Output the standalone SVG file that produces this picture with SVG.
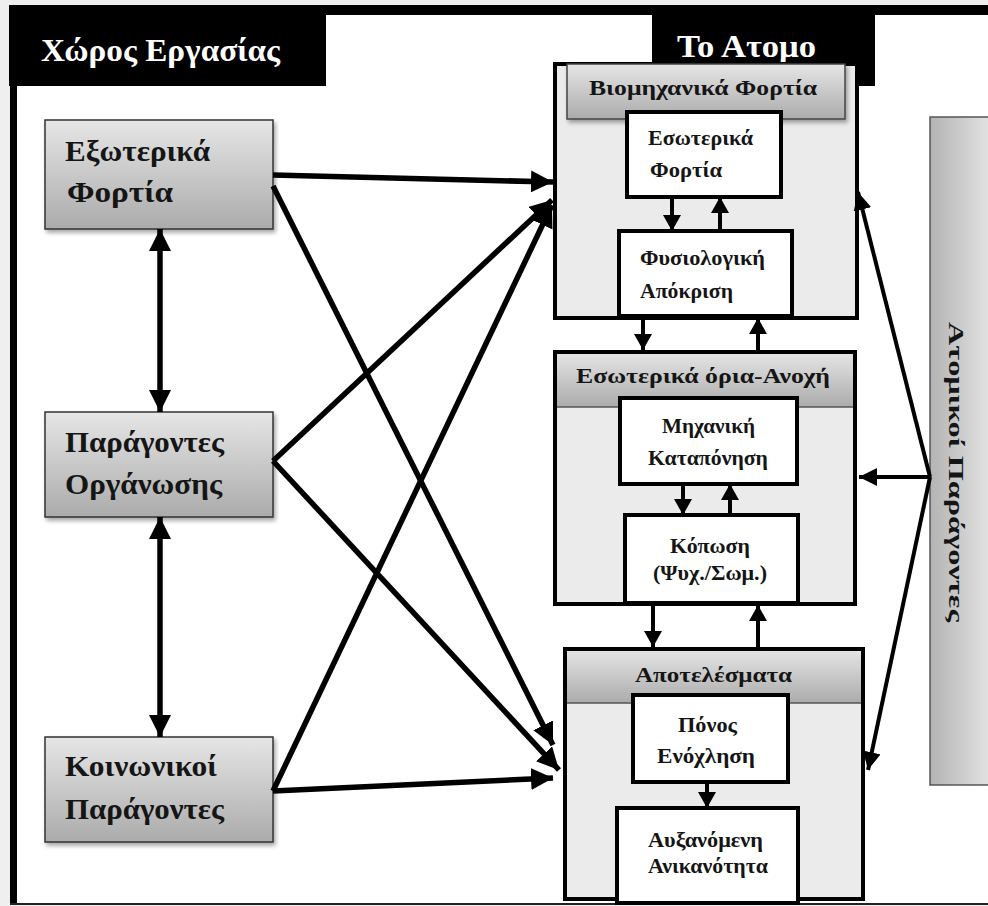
<svg xmlns="http://www.w3.org/2000/svg" width="988" height="906" viewBox="0 0 988 906">
<defs>
<linearGradient id="gv" x1="0" y1="0" x2="0" y2="1"><stop offset="0" stop-color="#e6e6e6"/><stop offset="1" stop-color="#ababab"/></linearGradient>
<linearGradient id="gh" x1="0" y1="0" x2="1" y2="0"><stop offset="0" stop-color="#b3b3b3"/><stop offset="1" stop-color="#e8e8e8"/></linearGradient>
<filter id="sh" x="-10%" y="-10%" width="130%" height="140%"><feDropShadow dx="2" dy="3" stdDeviation="2" flood-color="#000" flood-opacity="0.35"/></filter>
<marker id="ah" viewBox="0 0 22 22" refX="22" refY="11" markerWidth="22" markerHeight="22" markerUnits="userSpaceOnUse" orient="auto-start-reverse"><path d="M0,0 L22,11 L0,22 z" fill="#000"/></marker>
<marker id="am" viewBox="0 0 18 18" refX="18" refY="9" markerWidth="18" markerHeight="18" markerUnits="userSpaceOnUse" orient="auto-start-reverse"><path d="M0,0 L18,9 L0,18 z" fill="#000"/></marker>
<marker id="as" viewBox="0 0 16 18" refX="16" refY="9" markerWidth="16" markerHeight="18" markerUnits="userSpaceOnUse" orient="auto-start-reverse"><path d="M0,0 L16,9 L0,18 z" fill="#000"/></marker>
</defs>
<style>
.t{font-family:"Liberation Serif","Times New Roman",serif;font-weight:bold;fill:#151515}
.big{font-size:30px}
.hd{font-size:22px}
.in{font-size:20px}
.ttl{font-family:"Liberation Serif","Times New Roman",serif;font-weight:bold;font-size:32px;fill:#fff}
.lbox{fill:url(#gv);stroke:#333;stroke-width:1.5}
.outer{fill:#ebebeb}
.oline{fill:none;stroke:#000;stroke-width:4}
.inner{fill:#fff;stroke:#000;stroke-width:4}
.c{stroke:#000;fill:none;stroke-width:5.5}
.cm{stroke:#000;fill:none;stroke-width:4}
</style>
<rect x="0" y="0" width="988" height="906" fill="#efefef"/>
<rect x="10" y="5" width="978" height="900" fill="#fff"/>
<g id="frame">
<rect x="9" y="5" width="979" height="10" fill="#000"/>
<rect x="10" y="5" width="7" height="900" fill="#000"/>
<rect x="10" y="903" width="978" height="2" fill="#222"/>
<rect x="9" y="5" width="317" height="81" fill="#000"/>
<text class="ttl" x="41" y="61" textLength="239" lengthAdjust="spacingAndGlyphs">Χώρος Εργασίας</text>
<rect x="652" y="5" width="223" height="81" fill="#000"/>
<text class="ttl" x="677" y="57" textLength="139" lengthAdjust="spacingAndGlyphs">Το Ατομο</text>
</g>
<g id="n-biomixanika">
<rect class="outer" x="553" y="64" width="304" height="254"/>
<rect class="oline" x="555" y="64" width="302" height="254"/>
<rect x="567" y="64" width="278" height="55" fill="url(#gv)" stroke="#444" stroke-width="1.5" filter="url(#sh)"/>
<text class="t hd" x="589" y="95" textLength="228" lengthAdjust="spacingAndGlyphs">Βιομηχανικά Φορτία</text>
<rect class="inner" x="627" y="112" width="154" height="85"/>
<text class="t in" x="648" y="145" textLength="105" lengthAdjust="spacingAndGlyphs">Εσωτερικά</text>
<text class="t in" x="650" y="177" textLength="72" lengthAdjust="spacingAndGlyphs">Φορτία</text>
<rect class="inner" x="619" y="231" width="173" height="85"/>
<text class="t in" x="640" y="265" textLength="125" lengthAdjust="spacingAndGlyphs">Φυσιολογική</text>
<text class="t in" x="640" y="298" textLength="93" lengthAdjust="spacingAndGlyphs">Απόκριση</text>
</g>
<g id="n-exoterika">
<rect class="lbox" x="45" y="120" width="228" height="109" filter="url(#sh)"/>
<text class="t big" x="65" y="161" textLength="145" lengthAdjust="spacingAndGlyphs">Εξωτερικά</text>
<text class="t big" x="67" y="202" textLength="106" lengthAdjust="spacingAndGlyphs">Φορτία</text>
</g>
<g id="n-organosi">
<rect class="lbox" x="45" y="412" width="228" height="105" filter="url(#sh)"/>
<text class="t big" x="65" y="452" textLength="159" lengthAdjust="spacingAndGlyphs">Παράγοντες</text>
<text class="t big" x="65" y="494" textLength="157" lengthAdjust="spacingAndGlyphs">Οργάνωσης</text>
</g>
<g id="n-koinonikoi">
<rect class="lbox" x="45" y="737" width="228" height="105" filter="url(#sh)"/>
<text class="t big" x="65" y="776" textLength="152" lengthAdjust="spacingAndGlyphs">Κοινωνικοί</text>
<text class="t big" x="65" y="819" textLength="159" lengthAdjust="spacingAndGlyphs">Παράγοντες</text>
</g>
<g id="n-oria">
<rect class="outer" x="553" y="350" width="304" height="255"/>
<rect x="555" y="352" width="300" height="55" fill="url(#gv)"/>
<line x1="555" y1="407" x2="855" y2="407" stroke="#555" stroke-width="1.5"/>
<rect class="oline" x="555" y="352" width="300" height="252"/>
<text class="t hd" x="576" y="383" textLength="254" lengthAdjust="spacingAndGlyphs">Εσωτερικά όρια-Ανοχή</text>
<rect class="inner" x="620" y="398" width="177" height="86"/>
<text class="t in" x="662" y="433" textLength="93" lengthAdjust="spacingAndGlyphs">Μηχανική</text>
<text class="t in" x="648" y="465" textLength="120" lengthAdjust="spacingAndGlyphs">Καταπόνηση</text>
<rect class="inner" x="625" y="515" width="173" height="88"/>
<text class="t in" x="670" y="553" textLength="80" lengthAdjust="spacingAndGlyphs">Κόπωση</text>
<text class="t in" x="653" y="580" textLength="114" lengthAdjust="spacingAndGlyphs">(Ψυχ./Σωμ.)</text>
</g>
<g id="n-apotelesmata">
<rect class="outer" x="563" y="647" width="302" height="253"/>
<rect x="565" y="649" width="298" height="54" fill="url(#gv)"/>
<line x1="565" y1="703" x2="863" y2="703" stroke="#555" stroke-width="1.5"/>
<rect class="oline" x="565" y="649" width="298" height="250"/>
<text class="t hd" x="635" y="682" textLength="157" lengthAdjust="spacingAndGlyphs">Αποτελέσματα</text>
<rect class="inner" x="633" y="695" width="155" height="87"/>
<text class="t in" x="678" y="732" textLength="59" lengthAdjust="spacingAndGlyphs">Πόνος</text>
<text class="t in" x="657" y="763" textLength="98" lengthAdjust="spacingAndGlyphs">Ενόχληση</text>
<rect class="inner" x="617" y="808" width="181" height="95"/>
<text class="t in" x="648" y="847" textLength="115" lengthAdjust="spacingAndGlyphs">Αυξανόμενη</text>
<text class="t in" x="648" y="873" textLength="120" lengthAdjust="spacingAndGlyphs">Ανικανότητα</text>
</g>
<g id="n-atomikoi">
<rect x="930" y="117" width="66" height="668" fill="url(#gh)" stroke="#555" stroke-width="1.5"/>
<text class="t" font-size="22" x="957" y="480" text-anchor="middle" textLength="300" lengthAdjust="spacingAndGlyphs" transform="rotate(90 957 472)">Ατομικοί Παράγοντες</text>
</g>
<g id="connectors">
<line class="c" x1="160" y1="229" x2="160" y2="412" marker-start="url(#ah)" marker-end="url(#ah)"/>
<line class="c" x1="160" y1="517" x2="160" y2="737" marker-start="url(#ah)" marker-end="url(#ah)"/>
<line class="c" x1="273" y1="175" x2="553" y2="182" marker-end="url(#ah)"/>
<line class="c" x1="273" y1="186" x2="553" y2="745" marker-end="url(#ah)"/>
<line class="c" x1="273" y1="461" x2="552" y2="200" marker-end="url(#ah)"/>
<line class="c" x1="273" y1="461" x2="559" y2="770" marker-end="url(#ah)"/>
<line class="c" x1="273" y1="791" x2="552" y2="205" marker-end="url(#ah)"/>
<line class="c" x1="273" y1="791" x2="553" y2="778" marker-end="url(#ah)"/>
<line class="cm" x1="930" y1="477" x2="858" y2="192" marker-end="url(#am)"/>
<line class="cm" x1="930" y1="477" x2="859" y2="477" marker-end="url(#am)"/>
<line class="cm" x1="930" y1="477" x2="868" y2="770" marker-end="url(#am)"/>
<line class="cm" x1="672" y1="197" x2="672" y2="231" marker-end="url(#as)"/>
<line class="cm" x1="720" y1="231" x2="720" y2="197" marker-end="url(#as)"/>
<line class="cm" x1="643" y1="318" x2="643" y2="350" marker-end="url(#as)"/>
<line class="cm" x1="758" y1="350" x2="758" y2="318" marker-end="url(#as)"/>
<line class="cm" x1="683" y1="484" x2="683" y2="515" marker-end="url(#as)"/>
<line class="cm" x1="730" y1="515" x2="730" y2="484" marker-end="url(#as)"/>
<line class="cm" x1="653" y1="605" x2="653" y2="647" marker-end="url(#as)"/>
<line class="cm" x1="758" y1="647" x2="758" y2="605" marker-end="url(#as)"/>
<line class="cm" x1="707" y1="782" x2="707" y2="808" marker-end="url(#as)"/>
</g>
</svg>
